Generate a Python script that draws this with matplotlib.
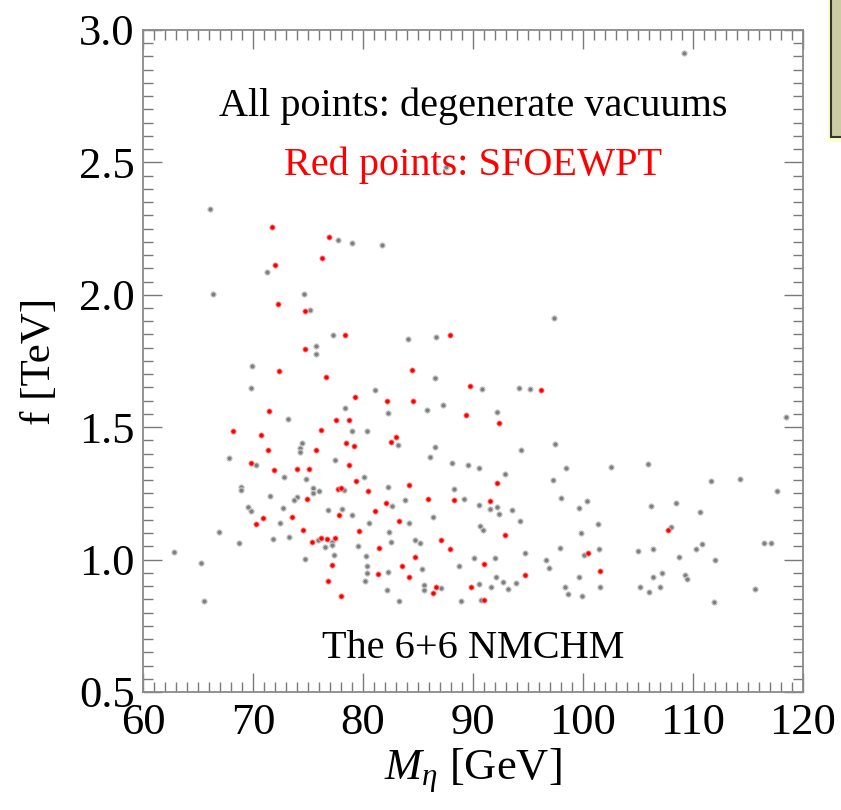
import matplotlib
matplotlib.use("Agg")
import matplotlib.pyplot as plt
from matplotlib.patches import Rectangle
from matplotlib.ticker import MultipleLocator

plt.rcParams["font.family"] = ["Liberation Serif", "DejaVu Serif"]
plt.rcParams["mathtext.fontset"] = "custom"
plt.rcParams["mathtext.rm"] = "Liberation Serif"
plt.rcParams["mathtext.it"] = "Liberation Serif:italic"

# all points (degenerate vacuums), M_eta [GeV] and f [TeV]
gray_m = [
    66.08, 77.76, 79.03, 71.32, 66.33, 74.68, 75.22, 77.27, 75.70, 75.70,
    69.87, 69.78, 78.40, 73.16, 79.03, 80.33,
    74.46, 74.31, 74.31, 67.81, 77.43, 70.26, 72.83, 74.80, 80.06, 68.87,
    68.87, 75.49, 78.24, 75.43, 76.00, 71.53, 74.01, 73.77, 69.56, 69.80,
    72.71, 76.79, 78.13, 79.03, 72.44, 80.54, 66.93, 73.23, 71.83, 68.71,
    75.95, 77.16, 77.16, 76.55, 79.52, 62.84, 77.40, 80.24, 65.26, 74.77,
    80.40, 80.40, 80.18, 65.51,
    81.76, 97.40, 84.12, 86.60, 86.53, 81.06, 90.86, 94.19, 95.16, 82.24,
    85.81, 87.26, 92.20,
    83.15, 86.57, 86.11, 94.40, 97.42, 88.05, 89.59, 90.59, 92.92, 98.46,
    82.24, 97.24, 88.23, 82.66, 83.78, 89.20, 90.59, 91.56, 92.22, 92.40,
    93.56, 94.28, 98.03, 99.64, 100.36, 86.41, 84.17, 82.33, 90.62, 90.92,
    99.85, 82.54, 84.72, 85.14, 90.11, 91.98, 94.70, 97.91, 100.12, 85.39,
    88.77, 96.61, 96.92, 82.30, 92.13, 92.70, 93.88, 99.60, 85.51, 85.51,
    87.08, 90.59, 91.68, 93.19, 98.37, 98.67, 99.91, 82.15, 83.24, 88.89,
    90.77,
    118.48, 102.57, 105.87, 111.62, 114.25, 117.64, 106.20, 108.44, 110.65,
    101.39, 107.99, 116.43, 117.12, 101.48, 104.96, 106.36, 110.31, 110.83,
    108.74, 111.98, 106.36, 107.20, 109.26, 109.44, 101.57, 105.14, 107.02,
    105.96, 115.67, 111.95,
    109.22, 87.57,
]
gray_f = [
    2.323, 2.208, 2.196, 2.086, 2.003, 2.003, 1.943, 1.849, 1.808, 1.775,
    1.731, 1.649, 1.573, 1.531, 1.485, 1.487,
    1.441, 1.420, 1.405, 1.384, 1.375, 1.356, 1.311, 1.304, 1.312, 1.275,
    1.264, 1.270, 1.264, 1.253, 1.258, 1.241, 1.238, 1.226, 1.199, 1.184,
    1.196, 1.188, 1.190, 1.170, 1.139, 1.137, 1.103, 1.086, 1.079, 1.064,
    1.074, 1.065, 1.056, 1.049, 1.052, 1.030, 1.017, 1.015, 0.988, 1.001,
    0.976, 0.948, 0.918, 0.844,
    2.189, 1.911, 1.832, 1.842, 1.685, 1.639, 1.644, 1.649, 1.644, 1.552,
    1.566, 1.583, 1.559,
    1.432, 1.424, 1.386, 1.415, 1.438, 1.365, 1.358, 1.347, 1.324, 1.347,
    1.273, 1.301, 1.268, 1.201, 1.226, 1.230, 1.207, 1.192, 1.198, 1.172,
    1.188, 1.147, 1.234, 1.194, 1.221, 1.162, 1.138, 1.103, 1.128, 1.113,
    1.102, 1.065, 1.074, 1.062, 1.006, 1.006, 1.026, 1.043, 1.017, 0.966,
    0.976, 0.998, 0.969, 0.953, 0.933, 0.914, 0.910, 0.933, 0.905, 0.886,
    0.893, 0.907, 0.895, 0.888, 0.895, 0.871, 0.863, 0.885, 0.844, 0.845,
    0.849,
    1.539, 1.351, 1.360, 1.297, 1.303, 1.259, 1.204, 1.213, 1.180,
    1.133, 1.124, 1.064, 1.062, 1.039, 1.031, 1.040, 1.040, 1.058,
    1.011, 1.000, 0.933, 0.951, 0.942, 0.927, 0.898, 0.897, 0.895,
    0.878, 0.889, 0.841,
    2.912, 2.484,
]

# red points: SFOEWPT
red_m = [
    71.74, 76.88, 76.25, 72.01, 72.28, 74.73, 78.34, 74.77, 72.34, 76.64,
    79.24, 71.44, 77.55, 78.70, 68.20, 70.77, 76.16,
    78.49, 79.15, 71.35, 75.73, 69.83, 78.70, 71.92, 74.01, 75.09, 79.40,
    77.73, 78.00, 80.49, 74.91, 70.89, 77.85, 73.59, 70.32, 74.52, 79.63,
    75.37, 76.22, 76.77, 77.49, 77.16, 76.79, 78.04,
    87.93, 84.44, 89.71, 96.22, 82.17, 84.53, 89.38, 92.34, 83.03,
    82.51, 84.17, 92.22, 82.06, 85.93, 88.32, 91.52, 81.06, 83.24, 92.92,
    87.11, 81.44, 87.87, 84.72, 83.57, 91.04, 81.33, 84.17, 94.76, 86.62,
    86.35, 89.86, 91.04, 100.46,
    107.74, 101.51,
]
red_f = [
    2.256, 2.219, 2.138, 2.111, 1.964, 1.940, 1.849, 1.796, 1.712, 1.688,
    1.614, 1.560, 1.527, 1.527, 1.485, 1.472, 1.488,
    1.441, 1.428, 1.413, 1.415, 1.366, 1.358, 1.337, 1.342, 1.342, 1.297,
    1.267, 1.269, 1.259, 1.229, 1.157, 1.168, 1.162, 1.136, 1.112, 1.109,
    1.068, 1.082, 1.078, 1.083, 0.978, 0.920, 0.864,
    1.849, 1.717, 1.656, 1.639, 1.600, 1.598, 1.545, 1.517, 1.464,
    1.443, 1.283, 1.290, 1.213, 1.228, 1.225, 1.222, 1.185, 1.145, 1.092,
    1.074, 1.044, 1.041, 1.010, 0.976, 0.983, 0.947, 0.935, 0.943, 0.898,
    0.874, 0.898, 0.849, 1.026,
    1.113, 0.957,
]

x_ticks = [60, 70, 80, 90, 100, 110, 120]
y_ticks = [0.5, 1.0, 1.5, 2.0, 2.5, 3.0]

fig = plt.figure(figsize=(8.41, 8.10), dpi=100)
ax = fig.add_axes([0.170, 0.1457, 0.7848, 0.8173])

ax.plot(gray_m, gray_f, "o", ls="none", ms=3.8, color="#7f7f7f",
        mec="#cfcfcf", mew=0.8)
ax.plot(red_m, red_f, "o", ls="none", ms=3.8, color="#ff0000",
        mec="#ffa0a0", mew=0.6)

ax.set_xlim(60, 120)
ax.set_ylim(0.5, 3.0)
ax.set_xticks(x_ticks)
ax.set_yticks(y_ticks)
ax.set_xticklabels([str(v) for v in x_ticks])
ax.set_yticklabels([f"{v:.1f}" for v in y_ticks])
ax.xaxis.set_minor_locator(MultipleLocator(1))
ax.yaxis.set_minor_locator(MultipleLocator(0.05))

ax.tick_params(which="both", direction="in", top=True, right=True,
               color="#7a7a7a", width=1.0, labelsize=32)
ax.tick_params(axis="y", pad=6)
ax.tick_params(axis="x", pad=8)
ax.tick_params(which="major", length=14)
ax.tick_params(which="minor", length=7)
for spine in ax.spines.values():
    spine.set_color("#8a8a8a")
    spine.set_linewidth(1.3)

ax.set_xlabel(r"$M_\eta$ [GeV]", fontsize=32, labelpad=2)
ax.set_ylabel("f [TeV]", fontsize=31, labelpad=14)

ax.text(0.5, 0.885, "All points: degenerate vacuums", transform=ax.transAxes,
        ha="center", va="center", fontsize=29, color="black")
ax.text(0.5, 0.795, "Red points: SFOEWPT", transform=ax.transAxes,
        ha="center", va="center", fontsize=29, color="#ff0000")
ax.text(0.5, 0.065, "The 6+6 NMCHM", transform=ax.transAxes,
        ha="center", va="center", fontsize=29, color="black")

# legend box cut off at the right edge
fig.patches.append(Rectangle((828 / 841, 1 - 142 / 810), 0.05, 0.2,
                             transform=fig.transFigure, facecolor="#ffffcc",
                             edgecolor="none"))
fig.patches.append(Rectangle((831 / 841, 1 - 137 / 810), 0.05, 0.2,
                             transform=fig.transFigure, facecolor="#cbcba4",
                             edgecolor="#333333", linewidth=1.5))

fig.savefig("out.png", dpi=100)
